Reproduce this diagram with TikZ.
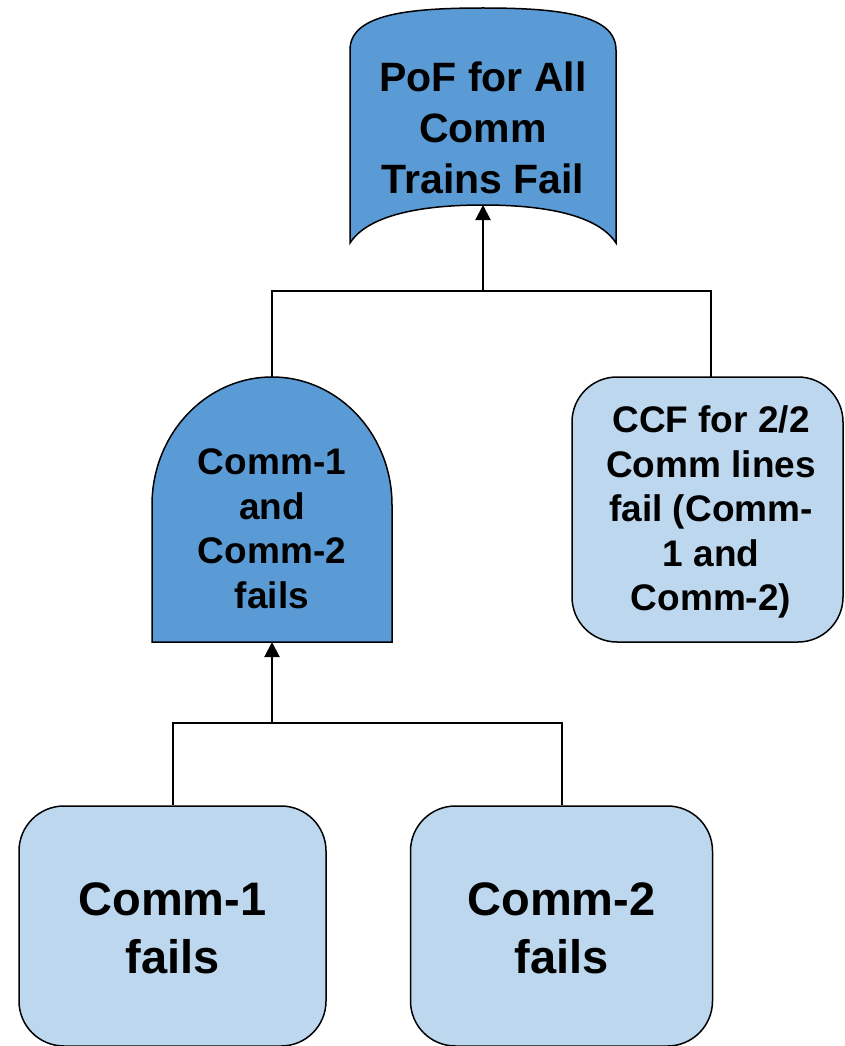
\documentclass[tikz,border=0pt]{standalone}
\usepackage{fontspec}
\setmainfont{Liberation Sans}
\usetikzlibrary{arrows.meta}
\definecolor{gateblue}{HTML}{5B9BD5}
\definecolor{eventblue}{HTML}{BDD7EE}

\begin{document}
\begin{tikzpicture}[x=1pt,y=-1pt,
  outline/.style={draw=black,line width=1.5pt},
  eventbox/.style={outline,fill=eventblue,rounded corners=45pt,
    rectangle,inner sep=0pt},
  label/.style={align=center,inner sep=0pt,font=\bfseries},
  wire/.style={draw=black,line width=2pt},
  feed/.style={wire,-{Triangle[width=15pt,length=15pt]}}
]
\useasboundingbox (0,0) rectangle (844,1046);

% top event: banner-shaped block with a concave base
\path[outline,fill=gateblue]
  (350,243) -- (350,50)
  .. controls (350,15) and (405,8) .. (483,8)
  .. controls (561,8) and (616,15) .. (616,50)
  -- (616,243)
  .. controls (598,215) and (545,205) .. (483,205)
  .. controls (421,205) and (368,215) .. (350,243) -- cycle;
\node[label,font=\bfseries\fontsize{41}{51}\selectfont] (top) at (483,127.5)
  {PoF for All\\Comm\\Trains Fail};
\coordinate (topbase) at (483,205);

% AND gate
\path[outline,fill=gateblue]
  (152,642) -- (152,505)
  .. controls (152,434.3) and (205.7,377) .. (272,377)
  .. controls (338.3,377) and (392,434.3) .. (392,505)
  -- (392,642) -- cycle;
\node[label,font=\bfseries\fontsize{37}{44.5}\selectfont] (gate) at (272,529)
  {Comm-1\\and\\Comm-2\\fails};
\coordinate (gatetop) at (272,377);
\coordinate (gatebase) at (272,642);

% common cause event
\node[eventbox,minimum width=271pt,minimum height=265pt] (ccf) at (707.5,509.5) {};
\node[label,font=\bfseries\fontsize{37}{44.5}\selectfont] (ccftext) at (711,512)
  {CCF for 2/2\\Comm lines\\fail (Comm-\\1 and\\Comm-2)};
\coordinate (ccftop) at (711,377);

% basic events
\node[eventbox,minimum width=307pt,minimum height=240pt] (c1) at (172.5,926) {};
\node[label,font=\bfseries\fontsize{47}{58}\selectfont] (c1text) at (172.5,928)
  {Comm-1\\fails};
\node[eventbox,minimum width=302pt,minimum height=240pt] (c2) at (561.5,926) {};
\node[label,font=\bfseries\fontsize{47}{58}\selectfont] (c2text) at (561.5,928)
  {Comm-2\\fails};

% connectors
\coordinate (j1) at (483,291);
\coordinate (j2) at (272,723);
\draw[wire] (gatetop) |- (j1) -| (ccftop);
\draw[feed] (j1) -- (topbase);
\draw[wire] (c1.north) |- (j2) -| (c2.north);
\draw[feed] (j2) -- (gatebase);
\end{tikzpicture}
\end{document}
